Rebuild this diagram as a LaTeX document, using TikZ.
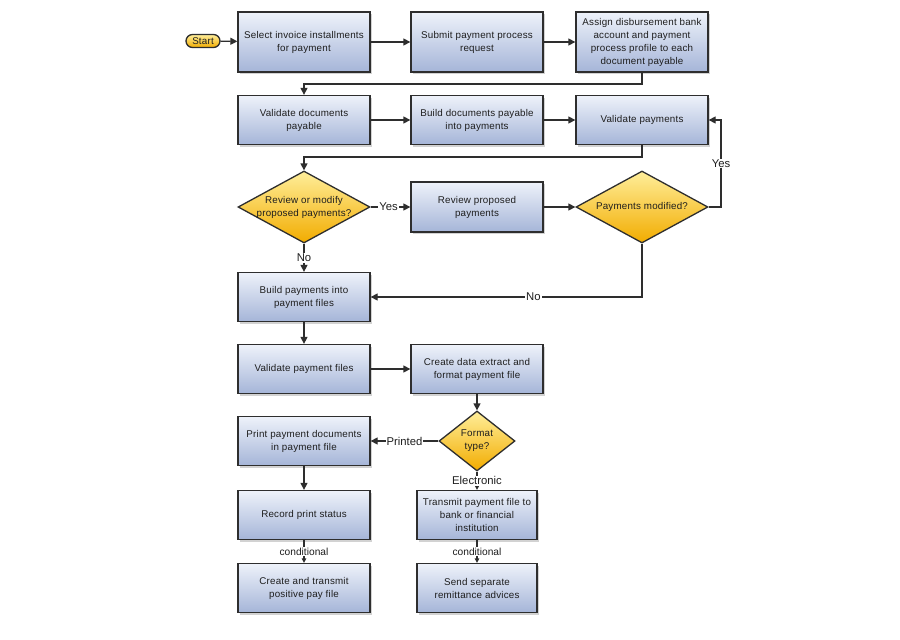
\documentclass[tikz,border=0pt]{standalone}
\usepackage{fontspec}
\setmainfont{Liberation Sans}
\newfontfamily\boxfont[LetterSpace=2]{Liberation Sans}
\usetikzlibrary{shapes.geometric,shapes.misc,shadows,arrows.meta,calc}
\definecolor{boxtop}{HTML}{EEF2FA}
\definecolor{boxbot}{HTML}{A5B5D8}
\definecolor{diatop}{HTML}{FFEE9A}
\definecolor{diabot}{HTML}{F2AC00}
\definecolor{edge}{HTML}{2E2E2E}
\definecolor{txt}{HTML}{1E1E1E}
\tikzset{
  txtfont/.style={font=\boxfont\fontsize{9.8}{13}\selectfont, text=txt},
  proc/.style={draw=edge, line width=1.3pt, top color=boxtop, bottom color=boxbot,
    minimum width=132pt, minimum height=49pt, align=center, txtfont,
    drop shadow={shadow xshift=2pt, shadow yshift=-2pt, opacity=0.35}},
  narrow/.style={proc, minimum width=120pt},
  decision/.style={diamond, draw=edge, line width=1.3pt, top color=diatop, bottom color=diabot,
    inner sep=0pt, minimum width=132pt, minimum height=72pt},
  dtext/.style={align=center, txtfont, inner sep=0pt},
  startpill/.style={rounded rectangle, draw=edge, line width=1.3pt, top color=diatop, bottom color=diabot,
    minimum width=36pt, minimum height=13pt, inner sep=1pt, txtfont},
  conn/.style={draw=edge, line width=1.3pt, -{Triangle[length=7pt,width=7pt]}},
  smallconn/.style={draw=edge, line width=1.3pt, -{Triangle[length=4.5pt,width=4.5pt]}},
  elabel/.style={fill=white, inner sep=1pt, font=\fontsize{11.3}{13}\selectfont, text=txt},
  clabel/.style={fill=white, inner sep=1pt, font=\fontsize{10.2}{12}\selectfont, text=txt},
}
\begin{document}
\begin{tikzpicture}[x=1pt,y=-1pt]
\useasboundingbox[fill=white] (0,0) rectangle (900,640);
% nodes
\node[startpill] (start) at (203,41) {Start};
\node[proc, minimum height=60pt] (b1) at (304,42) {Select invoice installments\\for payment};
\node[proc, minimum height=60pt] (b2) at (477,42) {Submit payment process\\request};
\node[proc, minimum height=60pt] (b3) at (642,42) {Assign disbursement bank\\account and payment\\process profile to each\\document payable};
\node[proc] (b4) at (304,120) {Validate documents\\payable};
\node[proc] (b5) at (477,120) {Build documents payable\\into payments};
\node[proc] (b6) at (642,120) {Validate payments};
\node[decision] (d1) at (304,207) {};
\node[dtext] (d1t) at (304,207) {Review or modify\\proposed payments?};
\node[proc, minimum height=50pt] (b7) at (477,207) {Review proposed\\payments};
\node[decision] (d2) at (642,207) {};
\node[dtext] (d2t) at (642,207) {Payments modified?};
\node[proc] (b8) at (304,297) {Build payments into\\payment files};
\node[proc] (b9) at (304,369) {Validate payment files};
\node[proc] (b10) at (477,369) {Create data extract and\\format payment file};
\node[decision, minimum width=76pt, minimum height=60pt] (d3) at (477,441) {};
\node[dtext] (d3t) at (477,441) {Format\\type?};
\node[proc] (b11) at (304,441) {Print payment documents\\in payment file};
\node[proc] (b14) at (304,515) {Record print status};
\node[proc] (b15) at (304,588) {Create and transmit\\positive pay file};
\node[narrow] (b12) at (477,515) {Transmit payment file to\\bank or financial\\institution};
\node[narrow] (b13) at (477,588) {Send separate\\remittance advices};
% helper coordinates
\coordinate (j1) at (642,84);
\coordinate (j2) at (304,84);
\coordinate (j3) at (642,157);
\coordinate (j4) at (304,157);
\coordinate (j5) at (721,207);
\coordinate (j6) at (721,120);
\coordinate (j7) at (642,297);
% connectors
\draw[conn] (start) -- (b1);
\draw[conn] (b1) -- (b2);
\draw[conn] (b2) -- (b3);
\draw[conn] (b3.south) -- (j1) -- (j2) -- (b4.north);
\draw[conn] (b4) -- (b5);
\draw[conn] (b5) -- (b6);
\draw[conn] (b6.south) -- (j3) -- (j4) -- (d1.north);
\draw[conn] (d1.east) -- node[elabel, pos=0.45] (lyes1) {Yes} (b7.west);
\draw[conn] (b7.east) -- (d2.west);
\draw[conn] (d2.east) -- (j5) -- node[elabel] (lyes2) {Yes} (j6) -- (b6.east);
\draw[conn] (d2.south) -- (j7) -- node[elabel, pos=0.4] (lno2) {No} (b8.east);
\draw[conn] (d1.south) -- node[elabel, pos=0.5] (lno1) {No} (b8.north);
\draw[conn] (b8) -- (b9);
\draw[conn] (b9) -- (b10);
\draw[conn] (b10) -- (d3.north);
\draw[conn] (d3.west) -- node[elabel] (lprinted) {Printed} (b11.east);
\draw[smallconn] (d3.south) -- node[elabel, pos=0.5] (lelec) {Electronic} (b12.north);
\draw[conn] (b11) -- (b14);
\draw[smallconn] (b14) -- node[clabel] (lcond1) {conditional} (b15);
\draw[smallconn] (b12) -- node[clabel] (lcond2) {conditional} (b13);
\end{tikzpicture}
\end{document}
